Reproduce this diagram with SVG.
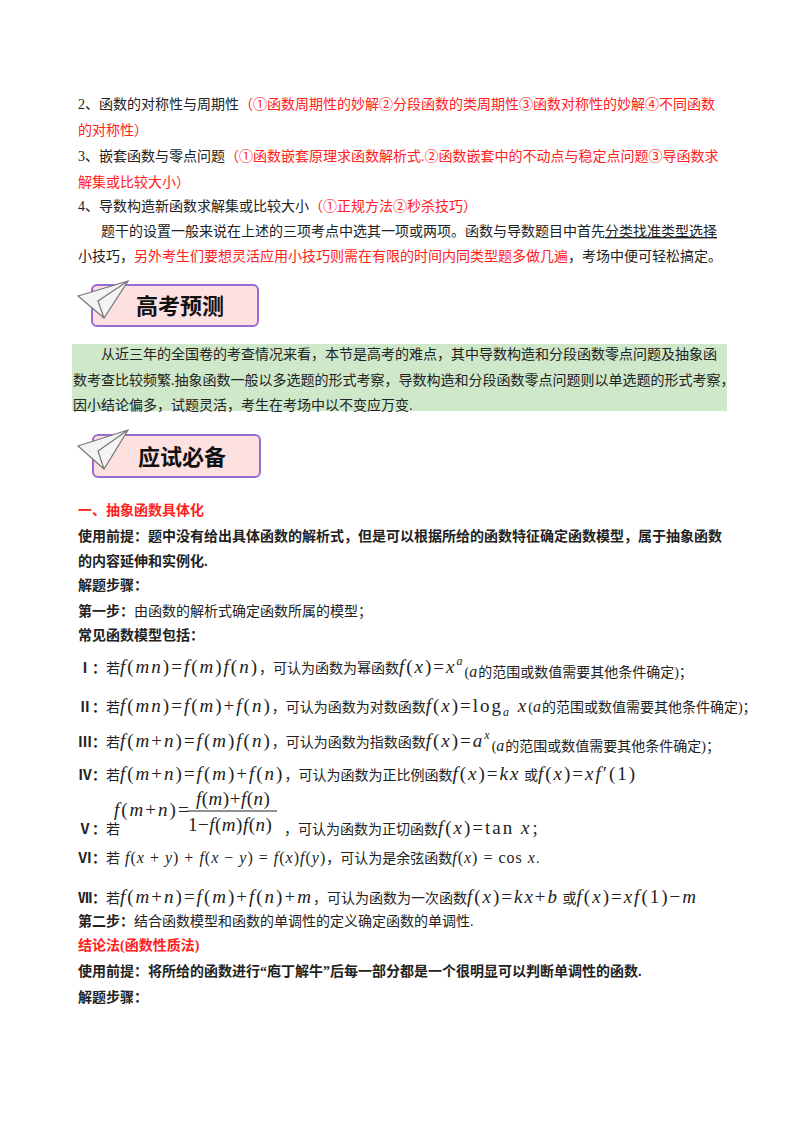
<svg xmlns="http://www.w3.org/2000/svg" width="800" height="1132" viewBox="0 0 800 1132">
<style>
text{font-family:"Liberation Serif","Noto Sans CJK SC",serif;font-size:14px;fill:#222}
.r{fill:#ff2020}
.b{font-weight:bold}
.m{font-family:"Liberation Serif",serif;font-style:italic;font-size:19px;letter-spacing:2px}
.n{font-family:"Liberation Serif",serif;font-size:19px;letter-spacing:2px}
.s{font-size:12px}
.t{font-size:16px;letter-spacing:1px}
.bt{font-family:"Noto Sans CJK SC",sans-serif;font-weight:bold;font-size:22px;fill:#111}
.fr tspan{letter-spacing:0.5px}
</style>
<rect width="800" height="1132" fill="#fff"/>
<text x="78" y="109">2、函数的对称性与周期性<tspan class="r">（①函数周期性的妙解②分段函数的类周期性③函数对称性的妙解④不同函数</tspan></text>
<text x="78" y="135" class="r">的对称性）</text>
<text x="78" y="161">3、嵌套函数与零点问题<tspan class="r">（①函数嵌套原理求函数解析式.②函数嵌套中的不动点与稳定点问题③导函数求</tspan></text>
<text x="78" y="187" class="r">解集或比较大小）</text>
<text x="78" y="211">4、导数构造新函数求解集或比较大小<tspan class="r">（①正规方法②秒杀技巧）</tspan></text>
<text x="101" y="236">题干的设置一般来说在上述的三项考点中选其一项或两项。函数与导数题目中首先<tspan text-decoration="underline">分类找准类型选择</tspan></text>
<text x="78" y="261">小技巧，<tspan class="r">另外考生们要想灵活应用小技巧则需在有限的时间内同类型题多做几遍</tspan>，考场中便可轻松搞定。</text>
<g id="banner1">
<rect x="92" y="285" width="166" height="41" rx="5" fill="#fde0e0" stroke="#9a6bd0" stroke-width="2"/>
<path d="M78,296 L128,281 L104,318 Z M104,318 L98,301 L128,281" fill="#f4f4f4" stroke="#777" stroke-width="1.2"/>
<text x="136" y="314" class="bt">高考预测</text>
</g>
<rect x="72" y="344" width="655" height="67" fill="#cfe8c9"/>
<text x="101" y="359">从近三年的全国卷的考查情况来看，本节是高考的难点，其中导数构造和分段函数零点问题及抽象函</text>
<text x="73" y="385">数考查比较频繁.抽象函数一般以多选题的形式考察，导数构造和分段函数零点问题则以单选题的形式考察，</text>
<text x="73" y="410">因小结论偏多，试题灵活，考生在考场中以不变应万变.</text>
<g id="banner2">
<rect x="93" y="435" width="167" height="42" rx="5" fill="#fde0e0" stroke="#9a6bd0" stroke-width="2"/>
<path d="M78,446 L128,430 L104,469 Z M104,469 L98,451 L128,430" fill="#f4f4f4" stroke="#777" stroke-width="1.2"/>
<text x="138" y="465" class="bt">应试必备</text>
</g>
<text x="78" y="515" class="r b">一、抽象函数具体化</text>
<text x="78" y="541" class="b">使用前提：题中没有给出具体函数的解析式，但是可以根据所给的函数特征确定函数模型，属于抽象函数</text>
<text x="78" y="566" class="b">的内容延伸和实例化.</text>
<text x="78" y="590" class="b">解题步骤：</text>
<text x="78" y="616"><tspan class="b">第一步：</tspan>由函数的解析式确定函数所属的模型；</text>
<text x="78" y="640" class="b">常见函数模型包括：</text>
<text x="78" y="673"><tspan class="b">Ⅰ：</tspan>若<tspan class="m">f</tspan><tspan class="n">(</tspan><tspan class="m">mn</tspan><tspan class="n">)=</tspan><tspan class="m">f</tspan><tspan class="n">(</tspan><tspan class="m">m</tspan><tspan class="n">)</tspan><tspan class="m">f</tspan><tspan class="n">(</tspan><tspan class="m">n</tspan><tspan class="n">)</tspan>，可认为函数为幂函数<tspan class="m">f</tspan><tspan class="n">(</tspan><tspan class="m">x</tspan><tspan class="n">)=</tspan><tspan class="m">x</tspan><tspan class="m s" dy="-8">a</tspan><tspan dy="12">(</tspan><tspan class="m t">a</tspan>的范围或数值需要其他条件确定)；</text>
<text x="78" y="712"><tspan class="b">Ⅱ：</tspan>若<tspan class="m">f</tspan><tspan class="n">(</tspan><tspan class="m">mn</tspan><tspan class="n">)=</tspan><tspan class="m">f</tspan><tspan class="n">(</tspan><tspan class="m">m</tspan><tspan class="n">)+</tspan><tspan class="m">f</tspan><tspan class="n">(</tspan><tspan class="m">n</tspan><tspan class="n">)</tspan>，可认为函数为对数函数<tspan class="m">f</tspan><tspan class="n">(</tspan><tspan class="m">x</tspan><tspan class="n">)=log</tspan><tspan class="m s" dy="4">a</tspan><tspan class="m" dy="-4"> x</tspan>(<tspan class="m t">a</tspan>的范围或数值需要其他条件确定)；</text>
<text x="78" y="747"><tspan class="b">Ⅲ：</tspan>若<tspan class="m">f</tspan><tspan class="n">(</tspan><tspan class="m">m</tspan><tspan class="n">+</tspan><tspan class="m">n</tspan><tspan class="n">)=</tspan><tspan class="m">f</tspan><tspan class="n">(</tspan><tspan class="m">m</tspan><tspan class="n">)</tspan><tspan class="m">f</tspan><tspan class="n">(</tspan><tspan class="m">n</tspan><tspan class="n">)</tspan>，可认为函数为指数函数<tspan class="m">f</tspan><tspan class="n">(</tspan><tspan class="m">x</tspan><tspan class="n">)=</tspan><tspan class="m">a</tspan><tspan class="m s" dy="-8">x</tspan><tspan dy="12">(</tspan><tspan class="m t">a</tspan>的范围或数值需要其他条件确定)；</text>
<text x="78" y="780"><tspan class="b">Ⅳ：</tspan>若<tspan class="m">f</tspan><tspan class="n">(</tspan><tspan class="m">m</tspan><tspan class="n">+</tspan><tspan class="m">n</tspan><tspan class="n">)=</tspan><tspan class="m">f</tspan><tspan class="n">(</tspan><tspan class="m">m</tspan><tspan class="n">)+</tspan><tspan class="m">f</tspan><tspan class="n">(</tspan><tspan class="m">n</tspan><tspan class="n">)</tspan>，可认为函数为正比例函数<tspan class="m">f</tspan><tspan class="n">(</tspan><tspan class="m">x</tspan><tspan class="n">)=</tspan><tspan class="m">kx</tspan> 或<tspan class="m">f</tspan><tspan class="n">(</tspan><tspan class="m">x</tspan><tspan class="n">)=</tspan><tspan class="m">xf</tspan><tspan class="n">′(1)</tspan></text>
<text x="78" y="834"><tspan class="b">Ⅴ：</tspan>若</text>
<text x="114" y="816"><tspan class="m">f</tspan><tspan class="n">(</tspan><tspan class="m">m</tspan><tspan class="n">+</tspan><tspan class="m">n</tspan><tspan class="n">)=</tspan></text>
<text x="196" y="805" class="fr"><tspan class="m">f</tspan><tspan class="n">(</tspan><tspan class="m">m</tspan><tspan class="n">)+</tspan><tspan class="m">f</tspan><tspan class="n">(</tspan><tspan class="m">n</tspan><tspan class="n">)</tspan></text>
<line x1="187" y1="811" x2="277" y2="811" stroke="#222" stroke-width="1"/>
<text x="188" y="831" class="fr"><tspan class="n">1−</tspan><tspan class="m">f</tspan><tspan class="n">(</tspan><tspan class="m">m</tspan><tspan class="n">)</tspan><tspan class="m">f</tspan><tspan class="n">(</tspan><tspan class="m">n</tspan><tspan class="n">)</tspan></text>
<text x="284" y="834">，可认为函数为正切函数<tspan class="m">f</tspan><tspan class="n">(</tspan><tspan class="m">x</tspan><tspan class="n">)=tan</tspan><tspan class="m"> x</tspan>；</text>
<text x="78" y="863"><tspan class="b">Ⅵ：</tspan>若<tspan class="m t"> f</tspan><tspan class="n t">(</tspan><tspan class="m t">x</tspan><tspan class="n t"> + </tspan><tspan class="m t">y</tspan><tspan class="n t">) + </tspan><tspan class="m t">f</tspan><tspan class="n t">(</tspan><tspan class="m t">x</tspan><tspan class="n t"> − </tspan><tspan class="m t">y</tspan><tspan class="n t">) = </tspan><tspan class="m t">f</tspan><tspan class="n t">(</tspan><tspan class="m t">x</tspan><tspan class="n t">)</tspan><tspan class="m t">f</tspan><tspan class="n t">(</tspan><tspan class="m t">y</tspan><tspan class="n t">)</tspan>，可认为是余弦函数<tspan class="m t">f</tspan><tspan class="n t">(</tspan><tspan class="m t">x</tspan><tspan class="n t">) = cos</tspan><tspan class="m t"> x</tspan>.</text>
<text x="78" y="903"><tspan class="b">Ⅶ：</tspan>若<tspan class="m">f</tspan><tspan class="n">(</tspan><tspan class="m">m</tspan><tspan class="n">+</tspan><tspan class="m">n</tspan><tspan class="n">)=</tspan><tspan class="m">f</tspan><tspan class="n">(</tspan><tspan class="m">m</tspan><tspan class="n">)+</tspan><tspan class="m">f</tspan><tspan class="n">(</tspan><tspan class="m">n</tspan><tspan class="n">)+</tspan><tspan class="m">m</tspan>，可认为函数为一次函数<tspan class="m">f</tspan><tspan class="n">(</tspan><tspan class="m">x</tspan><tspan class="n">)=</tspan><tspan class="m">kx</tspan><tspan class="n">+</tspan><tspan class="m">b</tspan> 或<tspan class="m">f</tspan><tspan class="n">(</tspan><tspan class="m">x</tspan><tspan class="n">)=</tspan><tspan class="m">xf</tspan><tspan class="n">(1)−</tspan><tspan class="m">m</tspan></text>
<text x="78" y="926"><tspan class="b">第二步：</tspan>结合函数模型和函数的单调性的定义确定函数的单调性.</text>
<text x="78" y="950" class="r b">结论法(函数性质法)</text>
<text x="78" y="976" class="b">使用前提：将所给的函数进行“庖丁解牛”后每一部分都是一个很明显可以判断单调性的函数.</text>
<text x="78" y="1002" class="b">解题步骤：</text>
</svg>
